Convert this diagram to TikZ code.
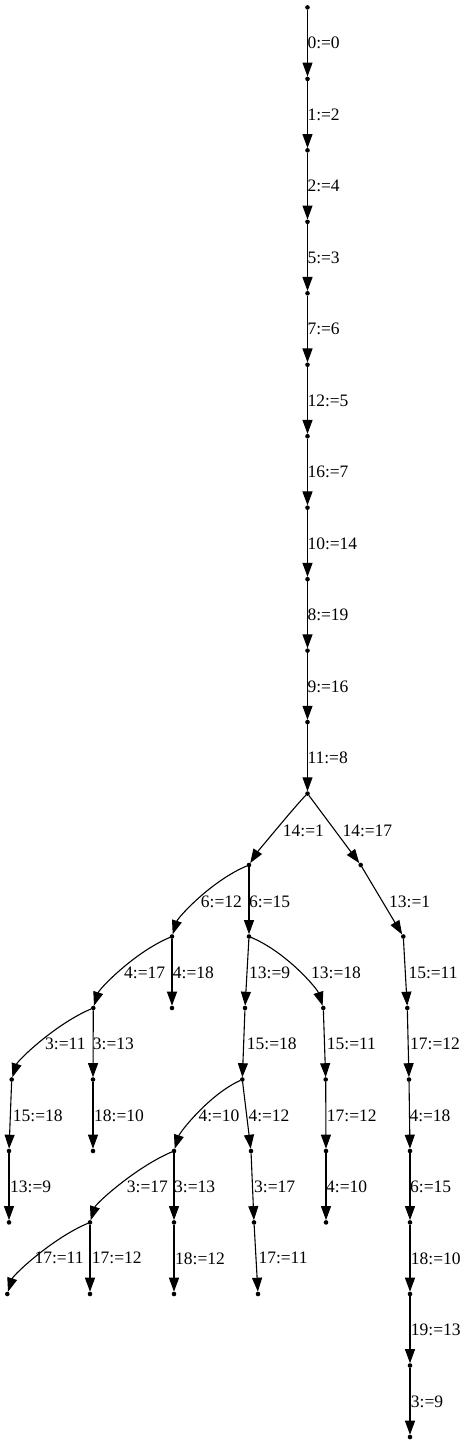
\documentclass[tikz,border=0pt]{standalone}
\usepackage{fontspec}
\setmainfont{Liberation Serif}
\usetikzlibrary{arrows.meta}
\begin{document}
\begin{tikzpicture}[x=1pt,y=-1pt,
 dot/.style={circle,fill=black,draw=none,inner sep=0pt,outer sep=0pt,minimum size=4.6pt},
 lbl/.style={anchor=west,inner sep=0pt,font=\fontsize{17.5}{20}\selectfont},
 edge/.style={line width=1.1pt,-{Triangle[length=14pt,width=10pt]}},
 lcurve/.style={edge},
 rcurve/.style={edge}]
\useasboundingbox (0,0) rectangle (469,1445);
% main chain
\foreach \k in {0,...,11}{
  \node[dot] (n\k) at (307.5,{7.4+71.47*\k}) {};
}
\foreach \k/\t [evaluate=\k as \m using int(\k+1)] in {0/0:=0,1/1:=2,2/2:=4,3/5:=3,4/7:=6,5/12:=5,6/16:=7,7/10:=14,8/8:=19,9/9:=16,10/11:=8}{
  \draw[edge] (n\k) -- (n\m);
  \node[lbl] (t\k) at (307.3,{43.1+71.47*\k}) {\t};
}
% tree nodes
\node[dot] (a) at (249,865) {};
\node[dot] (b) at (360.7,865) {};
\node[dot] (c) at (172,936.5) {};
\node[dot] (d) at (249,936.5) {};
\node[dot] (e) at (403.3,936.5) {};
\node[dot] (f) at (93.3,1008) {};
\node[dot] (g) at (172,1008) {};
\node[dot] (h) at (245,1008) {};
\node[dot] (i) at (323.3,1008) {};
\node[dot] (j) at (407.3,1008) {};
\node[dot] (k1) at (11.7,1079.5) {};
\node[dot] (k2) at (93,1079.5) {};
\node[dot] (k3) at (242.3,1079.5) {};
\node[dot] (k4) at (325.7,1079.5) {};
\node[dot] (k5) at (409,1079.5) {};
\node[dot] (l1) at (9,1151) {};
\node[dot] (l2) at (93,1151) {};
\node[dot] (l3) at (174,1151) {};
\node[dot] (l4) at (251,1151) {};
\node[dot] (l5) at (326,1151) {};
\node[dot] (l6) at (410,1151) {};
\node[dot] (m1) at (9,1222.4) {};
\node[dot] (m2) at (90,1222.4) {};
\node[dot] (m3) at (174,1222.4) {};
\node[dot] (m4) at (254,1222.4) {};
\node[dot] (m5) at (326,1222.4) {};
\node[dot] (m6) at (410,1222.4) {};
\node[dot] (o1) at (7.3,1294) {};
\node[dot] (o2) at (90,1294) {};
\node[dot] (o3) at (174,1294) {};
\node[dot] (o4) at (258,1294) {};
\node[dot] (o5) at (410,1294) {};
\node[dot] (p1) at (410,1365.5) {};
\node[dot] (q1) at (410,1437) {};
% edges
\draw[edge] (n11) .. controls +(-12,12) and +(7,-11) .. (a);
\draw[edge] (n11) -- (b);
\draw[edge] (a) .. controls +(-38,16) and +(6,-19) .. (c);
\draw[edge] (a) -- (d);
\draw[edge] (b) -- (e);
\draw[edge] (c) .. controls +(-38,16) and +(6,-19) .. (f);
\draw[edge] (c) -- (g);
\draw[edge] (d) -- (h);
\draw[edge] (d) .. controls +(38,16) and +(-6,-19) .. (i);
\draw[edge] (e) -- (j);
\draw[edge] (f) .. controls +(-38,16) and +(6,-19) .. (k1);
\draw[edge] (f) -- (k2);
\draw[edge] (h) -- (k3);
\draw[edge] (i) -- (k4);
\draw[edge] (j) -- (k5);
\draw[edge] (k1) -- (l1);
\draw[edge] (k2) -- (l2);
\draw[edge] (k3) .. controls +(-33,15) and +(6,-19) .. (l3);
\draw[edge] (k3) -- (l4);
\draw[edge] (k4) -- (l5);
\draw[edge] (k5) -- (l6);
\draw[edge] (l1) -- (m1);
\draw[edge] (l3) .. controls +(-38,16) and +(6,-19) .. (m2);
\draw[edge] (l3) -- (m3);
\draw[edge] (l4) -- (m4);
\draw[edge] (l5) -- (m5);
\draw[edge] (l6) -- (m6);
\draw[edge] (m2) .. controls +(-38,16) and +(6,-19) .. (o1);
\draw[edge] (m2) -- (o2);
\draw[edge] (m3) -- (o3);
\draw[edge] (m4) -- (o4);
\draw[edge] (m6) -- (o5);
\draw[edge] (o5) -- (p1);
\draw[edge] (p1) -- (q1);
% labels
\node[lbl] (ta) at (282.7,830.7) {14:=1};
\node[lbl] (tb) at (342.3,830.7) {14:=17};
\node[lbl] (tc) at (200.7,901.7) {6:=12};
\node[lbl] (td) at (249,901.7) {6:=15};
\node[lbl] (te) at (389,901.7) {13:=1};
\node[lbl] (tf) at (124,972.7) {4:=17};
\node[lbl] (tg) at (172.7,972.7) {4:=18};
\node[lbl] (th) at (249,972.7) {13:=9};
\node[lbl] (ti) at (311,972.7) {13:=18};
\node[lbl] (tj) at (408.3,972.7) {15:=11};
\node[lbl] (tk1) at (45,1044) {3:=11};
\node[lbl] (tk2) at (92.7,1044) {3:=13};
\node[lbl] (tk3) at (246.7,1044) {15:=18};
\node[lbl] (tk4) at (326.7,1044) {15:=11};
\node[lbl] (tk5) at (410,1044) {17:=12};
\node[lbl] (tl1) at (12.7,1116) {15:=18};
\node[lbl] (tl2) at (94,1116) {18:=10};
\node[lbl] (tl3) at (198.3,1116) {4:=10};
\node[lbl] (tl4) at (248.3,1116) {4:=12};
\node[lbl] (tl5) at (326.7,1116) {17:=12};
\node[lbl] (tl6) at (409.3,1116) {4:=18};
\node[lbl] (tm1) at (10,1186.7) {13:=9};
\node[lbl] (tm2) at (126.7,1186.7) {3:=17};
\node[lbl] (tm3) at (174,1186.7) {3:=13};
\node[lbl] (tm4) at (254,1186.7) {3:=17};
\node[lbl] (tm5) at (326,1186.7) {4:=10};
\node[lbl] (tm6) at (410,1186.7) {6:=15};
\node[lbl] (to1) at (34.3,1258.3) {17:=11};
\node[lbl] (to2) at (91.7,1258.3) {17:=12};
\node[lbl] (to3) at (175,1258.3) {18:=12};
\node[lbl] (to4) at (258.3,1258.3) {17:=11};
\node[lbl] (to5) at (410.7,1258.3) {18:=10};
\node[lbl] (tp1) at (410.7,1330) {19:=13};
\node[lbl] (tq1) at (410.7,1401.7) {3:=9};
\end{tikzpicture}
\end{document}
